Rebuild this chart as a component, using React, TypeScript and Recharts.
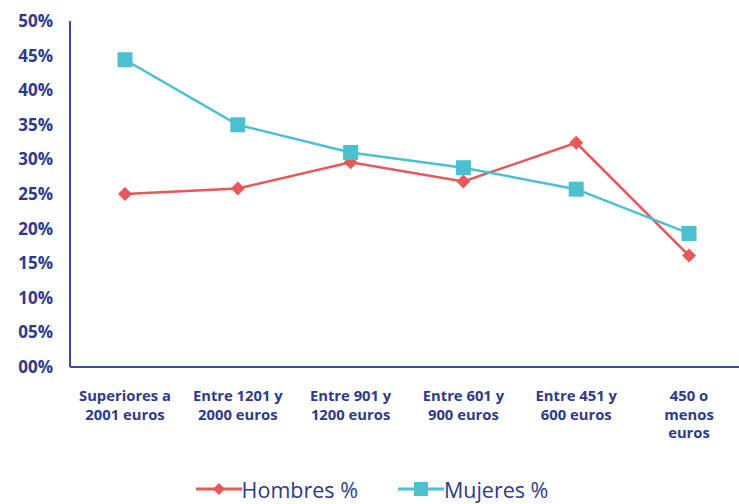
import React from "react";
import { LineChart, Line, XAxis, YAxis, Legend } from "recharts";

const categories = [
  "Superiores a\n2001 euros",
  "Entre 1201 y\n2000 euros",
  "Entre 901 y\n1200 euros",
  "Entre 601 y\n900 euros",
  "Entre 451 y\n600 euros",
  "450 o\nmenos\neuros",
];
const hombres = [0.25, 0.258, 0.296, 0.268, 0.324, 0.161];
const mujeres = [0.444, 0.35, 0.31, 0.288, 0.257, 0.193];
const yTicks = [0, 0.05, 0.1, 0.15, 0.2, 0.25, 0.3, 0.35, 0.4, 0.45, 0.5];

const NAVY = "#2E3A8C";
const RED = "#E8585B";
const TEAL = "#4BC0D0";
const FONT = "'Open Sans', Lato, sans-serif";

const data = categories.map((c, i) => ({
  name: c,
  hombres: hombres[i],
  mujeres: mujeres[i],
}));

const fmtPct = (v: number) => `${String(Math.round(v * 100)).padStart(2, "0")}%`;

function Diamond(props: any) {
  const { cx, cy } = props;
  if (cx == null || cy == null) return null;
  const r = 7;
  return (
    <polygon
      points={`${cx},${cy - r} ${cx + r},${cy} ${cx},${cy + r} ${cx - r},${cy}`}
      fill={RED}
    />
  );
}

function Square(props: any) {
  const { cx, cy } = props;
  if (cx == null || cy == null) return null;
  const s = 15;
  return <rect x={cx - s / 2} y={cy - s / 2} width={s} height={s} fill={TEAL} />;
}

function XTick(props: any) {
  const { x, y, payload } = props;
  const lines = String(payload.value).split("\n");
  return (
    <text x={x} y={y} textAnchor="middle" fill={NAVY} fontSize={14.8} fontWeight={700} fontFamily={FONT}>
      {lines.map((l, i) => (
        <tspan key={i} x={x} dy={i === 0 ? 26 : 18.5}>
          {l}
        </tspan>
      ))}
    </text>
  );
}

function YTick(props: any) {
  const { x, y, payload } = props;
  return (
    <text x={x} y={y} dy={6} textAnchor="end" fill={NAVY} fontSize={17} fontWeight={700} fontFamily={FONT}>
      {fmtPct(payload.value)}
    </text>
  );
}

function LegendContent() {
  const items = [
    { label: "Hombres %", color: RED, marker: "diamond" },
    { label: "Mujeres %", color: TEAL, marker: "square" },
  ];
  return (
    <div style={{ display: "flex", justifyContent: "center", gap: 40, height: 30, alignItems: "center", paddingRight: 2 }}>
      {items.map((it) => (
        <div key={it.label} style={{ display: "flex", alignItems: "center" }}>
          <svg width={46} height={16}>
            <line x1={0} y1={8} x2={46} y2={8} stroke={it.color} strokeWidth={3} />
            {it.marker === "diamond" ? (
              <polygon points="23,2 29,8 23,14 17,8" fill={it.color} />
            ) : (
              <rect x={16} y={1} width={14} height={14} fill={it.color} />
            )}
          </svg>
          <span style={{ color: NAVY, fontFamily: FONT, fontSize: 21.5, marginLeft: 0 }}>{it.label}</span>
        </div>
      ))}
    </div>
  );
}

export default function App() {
  return (
    <div style={{ position: "absolute", left: 0, top: 0, width: 739, height: 504, overflow: "hidden", background: "#fff" }}>
      <LineChart width={746} height={504} data={data} margin={{ top: 21, right: 0, bottom: 0, left: 0 }}>
        <XAxis
          dataKey="name"
          axisLine={{ stroke: "#3B4A9C", strokeWidth: 2 }}
          tickLine={false}
          tick={<XTick />}
          interval={0}
          height={107}
          padding={{ left: 55, right: 57 }}
        />
        <YAxis
          domain={[0, 0.5]}
          ticks={yTicks}
          axisLine={{ stroke: "#3B4A9C", strokeWidth: 2 }}
          tickLine={false}
          tick={<YTick />}
          tickMargin={11}
          width={70}
          interval={0}
        />
        <Legend verticalAlign="bottom" content={<LegendContent />} />
        <Line
          dataKey="hombres"
          stroke={RED}
          strokeWidth={2.5}
          dot={<Diamond />}
          activeDot={false}
          isAnimationActive={false}
        />
        <Line
          dataKey="mujeres"
          stroke={TEAL}
          strokeWidth={2.5}
          dot={<Square />}
          activeDot={false}
          isAnimationActive={false}
        />
      </LineChart>
    </div>
  );
}
